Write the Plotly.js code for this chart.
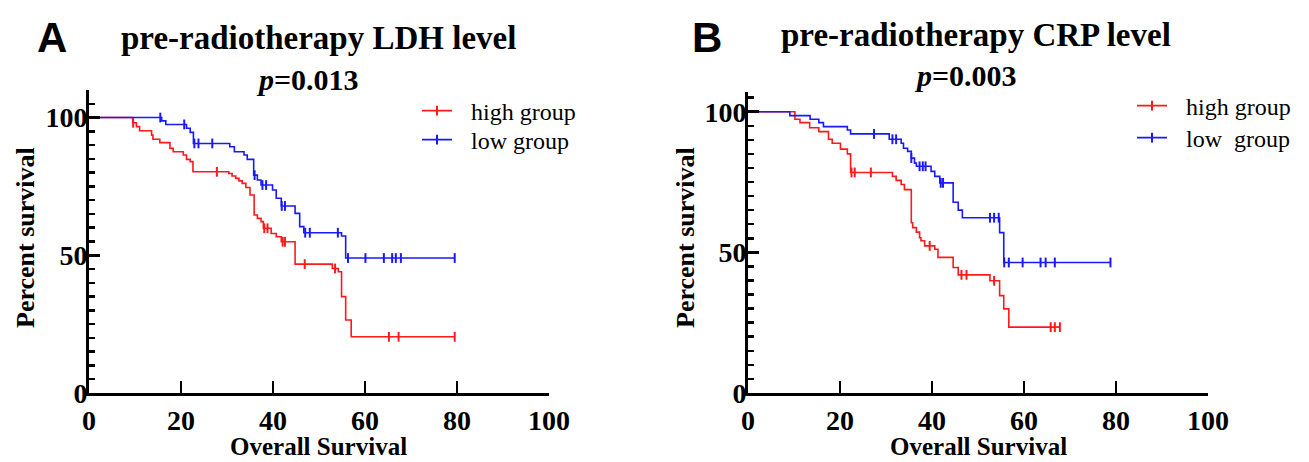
<!DOCTYPE html>
<html><head><meta charset="utf-8">
<script src="https://cdn.plot.ly/plotly-3.0.1.min.js"></script>
<style>html,body{margin:0;padding:0;background:#fff}</style>
</head><body><div id="chart" style="width:1309px;height:462px"></div>
<script>
// ---- Panel A: pre-radiotherapy LDH level ----
const ldhHighTime = [0, 9.5, 10.3, 11.0, 13.6, 13.9, 15.4, 17.6, 18.3, 20.5, 21.2, 22.0, 22.6, 30.4, 31.1, 31.9, 32.6, 33.3, 34.1, 35.0, 35.9, 36.6, 37.4, 37.9, 39.6, 40.7, 41.8, 44.8, 52.9, 54.2, 54.9, 55.8, 57.0];
const ldhHighSurv = [100, 98.1, 96.7, 95.2, 93.6, 92.1, 90.9, 88.8, 87.6, 86.4, 84.8, 84.0, 80.3, 79.7, 78.8, 77.9, 77.0, 76.1, 74.6, 71.9, 64.6, 63.4, 62.2, 59.8, 57.9, 56.7, 54.9, 46.8, 45.2, 44.0, 35.0, 26.5, 20.4];
const ldhHighCensor = [9.6, 27.8, 38.1, 38.8, 42.1, 42.6, 46.9, 53.5, 65.2, 67.3, 79.5];

const ldhLowTime = [0, 15.8, 16.7, 21.2, 22.0, 22.7, 30.6, 31.6, 33.7, 34.4, 35.8, 36.6, 37.4, 39.9, 40.7, 41.8, 44.8, 45.8, 46.7, 54.9, 55.8];
const ldhLowSurv = [100, 98.8, 97.5, 96.1, 94.6, 90.6, 89.4, 87.6, 86.4, 84.8, 79.1, 77.3, 75.5, 73.7, 70.7, 67.9, 65.2, 60.4, 58.2, 57.0, 49.0];
const ldhLowCensor = [15.5, 20.7, 22.9, 23.8, 26.8, 36.0, 37.7, 38.5, 41.9, 42.6, 47.0, 48.0, 54.1, 56.3, 60.1, 64.1, 65.9, 66.7, 67.8, 79.5];

// ---- Panel B: pre-radiotherapy CRP level ----
const crpHighTime = [0, 10.2, 11.3, 13.4, 15.4, 17.5, 18.3, 20.1, 21.6, 22.3, 31.4, 32.2, 33.3, 34.0, 35.5, 35.8, 36.6, 37.3, 37.6, 38.4, 40.6, 41.3, 44.6, 45.7, 52.6, 54.7, 55.6, 56.7];
const crpHighSurv = [100, 97.3, 96.1, 94.3, 92.9, 90.2, 88.8, 86.7, 85.0, 78.4, 77.0, 75.6, 74.1, 72.3, 60.5, 58.8, 57.2, 55.2, 54.1, 52.3, 51.1, 48.2, 44.6, 42.0, 39.9, 34.6, 29.9, 23.4];
const crpHighCensor = [22.5, 23.2, 26.7, 39.5, 46.4, 47.5, 53.5, 65.8, 66.7, 67.8];

const crpLowTime = [0, 9.1, 13.5, 15.4, 16.4, 21.6, 22.3, 30.7, 33.3, 33.8, 34.7, 35.5, 36.2, 36.6, 39.8, 40.6, 41.7, 44.6, 45.7, 46.6, 54.7, 55.6];
const crpLowSurv = [100, 98.6, 97.3, 96.1, 94.7, 93.5, 92.1, 90.2, 88.8, 87.0, 85.9, 83.5, 81.7, 80.6, 78.8, 77.0, 74.7, 67.8, 65.0, 62.3, 57.0, 46.4];
const crpLowCensor = [27.4, 31.4, 32.2, 35.5, 37.3, 38.0, 38.6, 41.9, 42.4, 52.6, 53.5, 54.5, 55.7, 56.7, 59.7, 63.6, 64.7, 66.7, 78.8];

const groupNamesA = ['high group', 'low group'];
const groupNamesB = ['high group', 'low\u00a0\u00a0group'];
const xTicks = [0, 20, 40, 60, 80, 100];
const yTicks = [0, 50, 100];

const RED = 'rgb(255,25,25)';
const BLUE = 'rgb(25,25,255)';
const SERIF = 'Liberation Serif, Times New Roman, serif';
const SANS = 'Liberation Sans, Arial, sans-serif';

function survAt(times, surv, t) {
  let s = surv[0];
  for (let i = 0; i < times.length; i++) { if (times[i] <= t) s = surv[i]; }
  return s;
}
function kmTraces(times, surv, censor, color, xa, ya, name, legend) {
  const lastT = Math.max(times[times.length - 1], censor[censor.length - 1]);
  const lx = times.concat([lastT]);
  const ly = surv.concat([surv[surv.length - 1]]);
  const cy = censor.map(t => survAt(times, surv, t));
  const mk = {symbol: 'line-ns', size: 7, color: color, line: {color: color, width: 2}};
  return [
    {type: 'scatter', mode: 'lines', x: lx, y: ly, xaxis: xa, yaxis: ya,
     line: {color: color, width: 1.6, shape: 'hv'}, showlegend: false, hoverinfo: 'skip'},
    {type: 'scatter', mode: 'markers', x: censor, y: cy, xaxis: xa, yaxis: ya,
     marker: mk, showlegend: false, hoverinfo: 'skip'},
    {type: 'scatter', mode: 'lines+markers', x: [null], y: [null], xaxis: xa, yaxis: ya,
     name: '\u00a0\u00a0\u200a' + name, legend: legend,
     line: {color: color, width: 1.6}, marker: mk}
  ];
}

const data = [].concat(
  kmTraces(ldhHighTime, ldhHighSurv, ldhHighCensor, RED, 'x', 'y', groupNamesA[0], 'legend'),
  kmTraces(ldhLowTime, ldhLowSurv, ldhLowCensor, BLUE, 'x', 'y', groupNamesA[1], 'legend2'),
  kmTraces(crpHighTime, crpHighSurv, crpHighCensor, RED, 'x2', 'y2', groupNamesB[0], 'legend3'),
  kmTraces(crpLowTime, crpLowSurv, crpLowCensor, BLUE, 'x2', 'y2', groupNamesB[1], 'legend4')
);

function xAxis(domain, anchor) {
  return {domain: domain, anchor: anchor, range: [0, 100], tickvals: xTicks,
    ticks: 'inside', ticklen: 12, tickwidth: 2.5, tickcolor: '#000',
    showline: true, linecolor: '#000', linewidth: 3, showgrid: false, zeroline: false,
    tickfont: {family: SERIF, size: 28, weight: 'bold', color: '#000'}, ticklabelstandoff: 0};
}
function yAxis(domain, anchor, top) {
  return {domain: domain, anchor: anchor, range: [0, top], tickvals: yTicks,
    ticks: 'inside', ticklen: 11, tickwidth: 3, tickcolor: '#000',
    minor: {dtick: 5, tick0: 0, ticks: 'inside', ticklen: 6, tickwidth: 2.5, tickcolor: '#000', showgrid: false},
    showline: true, linecolor: '#000', linewidth: 3, showgrid: false, zeroline: false,
    tickfont: {family: SERIF, size: 28, weight: 'bold', color: '#000'}, ticklabelstandoff: -7};
}
function legendAt(xpx, ypx) {
  return {x: xpx / 1309, y: 1 - ypx / 462, xanchor: 'left', yanchor: 'middle', bgcolor: 'rgba(0,0,0,0)',
    font: {family: SERIF, size: 24, color: '#000'}, borderwidth: 0};
}
function ann(text, xpx, ypx, font, extra) {
  return Object.assign({text: text, xref: 'paper', yref: 'paper', x: xpx / 1309, y: 1 - ypx / 462,
    xanchor: 'center', yanchor: 'middle', showarrow: false, font: font, borderpad: 0}, extra || {});
}
const titleFont = {family: SERIF, size: 33, color: '#000'};
const pFont = {family: SERIF, size: 30, color: '#000'};
const labFont = {family: SERIF, size: 26, color: '#000'};
const xLabFont = {family: SERIF, size: 25, color: '#000'};
const letterFont = {family: SANS, size: 42, color: '#000'};

const layout = {
  width: 1309, height: 462,
  margin: {l: 0, r: 0, t: 0, b: 0},
  paper_bgcolor: '#fff', plot_bgcolor: '#fff',
  xaxis: xAxis([89 / 1309, 549 / 1309], 'y'),
  yaxis: yAxis([69 / 462, 372 / 462], 'x', 110),
  xaxis2: xAxis([748 / 1309, 1208 / 1309], 'y2'),
  yaxis2: yAxis([69 / 462, 370 / 462], 'x2', 107),
  legend: legendAt(417, 111),
  legend2: legendAt(417, 140),
  legend3: legendAt(1132, 106),
  legend4: legendAt(1132, 138),
  annotations: [
    ann('<b>A</b>', 52, 37, letterFont),
    ann('<b>pre-radiotherapy LDH level</b>', 318, 38, titleFont),
    ann('<b><i>p</i>=0.013</b>', 307, 79, pFont),
    ann('<b>Percent survival</b>', 25, 238, labFont, {textangle: -90}),
    ann('<b>Overall Survival</b>', 318, 461, xLabFont, {yanchor: 'bottom'}),
    ann('<b>B</b>', 707, 37, letterFont),
    ann('<b>pre-radiotherapy CRP level</b>', 976, 35, titleFont),
    ann('<b><i>p</i>=0.003</b>', 965, 75, pFont),
    ann('<b>Percent survival</b>', 685, 238, labFont, {textangle: -90}),
    ann('<b>Overall Survival</b>', 978, 461, xLabFont, {yanchor: 'bottom'})
  ]
};

Plotly.newPlot('chart', data, layout, {staticPlot: true, displayModeBar: false});
</script>
</body></html>
